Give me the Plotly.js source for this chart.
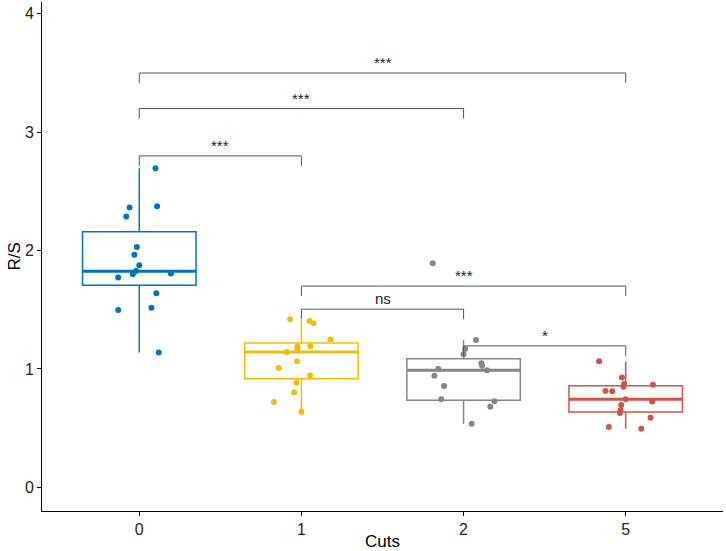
<!DOCTYPE html>
<html>
<head>
<meta charset="utf-8">
<script src="https://cdn.plot.ly/plotly-3.0.1.min.js"></script>
<style>
  html, body { margin: 0; padding: 0; background: #fff; }
  #chart { width: 726px; height: 551px; }
</style>
</head>
<body>
<div id="chart"></div>
<script>
// categories and colours (jco palette)
var cuts = ['0', '1', '2', '5'];
var colors = ['#0073C2', '#EFC000', '#868686', '#CD534C'];

// box statistics
var q1     = [1.707, 0.918, 0.735, 0.637];
var median = [1.826, 1.144, 0.989, 0.744];
var q3     = [2.160, 1.220, 1.087, 0.859];
var lower  = [1.138, 0.639, 0.535, 0.495];
var upper  = [2.695, 1.414, 1.245, 1.062];

// individual R/S values per group, with their horizontal jitter
var rs0  = [2.695, 2.375, 2.363, 2.287, 2.031, 1.964, 1.877, 1.828, 1.800, 1.772, 1.806, 1.640, 1.516, 1.499, 1.138];
var jit0 = [0.10, 0.11, -0.06, -0.08, -0.015, -0.03, 0.00, -0.02, -0.04, -0.13, 0.195, 0.105, 0.075, -0.13, 0.12];
var rs1  = [1.420, 1.406, 1.386, 1.248, 1.189, 1.192, 1.169, 1.144, 1.065, 1.008, 0.947, 0.884, 0.803, 0.721, 0.639];
var jit1 = [-0.07, 0.05, 0.075, 0.18, -0.025, 0.055, -0.025, -0.09, -0.027, -0.14, 0.054, -0.03, -0.045, -0.17, 0];
var rs2  = [1.893, 1.245, 1.169, 1.124, 1.048, 1.028, 0.989, 1.000, 0.943, 0.856, 0.744, 0.727, 0.681, 0.538];
var jit2 = [-0.19, 0.077, 0.01, 0.0, 0.11, 0.114, 0.145, -0.156, -0.18, -0.12, -0.138, 0.19, 0.165, 0.05];
var rs5  = [1.065, 0.927, 0.873, 0.850, 0.867, 0.814, 0.811, 0.744, 0.724, 0.696, 0.651, 0.628, 0.588, 0.510, 0.495];
var jit5 = [-0.164, -0.023, -0.01, -0.014, 0.168, -0.125, -0.083, 0, 0.164, -0.028, -0.032, -0.036, 0.153, -0.104, 0.096];

// pairwise comparisons (group index from / to, bracket height, label)
var cmpFrom  = [0, 0, 0, 1, 1, 2];
var cmpTo    = [1, 2, 3, 2, 3, 3];
var cmpY     = [2.80, 3.20, 3.50, 1.505, 1.70, 1.195];
var cmpLabel = ['***', '***', '***', 'ns', '***', '*'];

var values = [rs0, rs1, rs2, rs5];
var jitters = [jit0, jit1, jit2, jit5];
var boxWidth = 0.7;
var tip = 0.085;
var font = 'Liberation Sans, Arial, sans-serif';

var traces = [];

// boxes and whiskers
cuts.forEach(function (c, i) {
    traces.push({
        type: 'box',
        x: [i],
        q1: [q1[i]], median: [median[i]], q3: [q3[i]],
        lowerfence: [lower[i]], upperfence: [upper[i]],
        width: boxWidth,
        whiskerwidth: 0,
        boxpoints: false,
        fillcolor: '#ffffff',
        line: { color: colors[i], width: 1.5 },
        hoverinfo: 'skip',
        showlegend: false
    });
});

// thicker median bars
cuts.forEach(function (c, i) {
    traces.push({
        type: 'scatter',
        mode: 'lines',
        x: [i - boxWidth / 2, i + boxWidth / 2],
        y: [median[i], median[i]],
        line: { color: colors[i], width: 3 },
        hoverinfo: 'skip',
        showlegend: false
    });
});

// jittered points
cuts.forEach(function (c, i) {
    traces.push({
        type: 'scatter',
        mode: 'markers',
        x: jitters[i].map(function (j) { return i + j; }),
        y: values[i],
        marker: { color: colors[i], size: 6 },
        hoverinfo: 'y',
        showlegend: false
    });
});

// significance brackets
var shapes = [];
var annotations = [];
cmpFrom.forEach(function (a, k) {
    var b = cmpTo[k], y = cmpY[k];
    shapes.push({
        type: 'path',
        xref: 'x', yref: 'y',
        path: 'M ' + a + ' ' + (y - tip) + ' L ' + a + ' ' + y +
              ' L ' + b + ' ' + y + ' L ' + b + ' ' + (y - tip),
        line: { color: '#555555', width: 1 },
        layer: 'above'
    });
    annotations.push({
        x: (a + b) / 2, y: y,
        xref: 'x', yref: 'y',
        text: cmpLabel[k],
        showarrow: false,
        yanchor: 'bottom',
        yshift: 0,
        font: { family: font, size: 15, color: '#222222' }
    });
});

// y axis title, placed like the ggplot one
annotations.push({
    x: 0, y: 0.5,
    xref: 'paper', yref: 'paper',
    xshift: -28,
    xanchor: 'center', yanchor: 'middle',
    text: 'R/S',
    textangle: -90,
    showarrow: false,
    font: { family: font, size: 17, color: '#000000' }
});

Plotly.newPlot('chart', traces, {
    width: 726,
    height: 551,
    margin: { l: 42, r: 3, t: 2, b: 40 },
    paper_bgcolor: '#ffffff',
    plot_bgcolor: '#ffffff',
    boxmode: 'overlay',
    font: { family: font, color: '#000000' },
    xaxis: {
        range: [-0.6, 3.6],
        tickvals: [0, 1, 2, 3],
        ticktext: cuts,
        showgrid: false,
        zeroline: false,
        showline: true,
        linecolor: '#000000',
        linewidth: 1,
        ticks: 'outside',
        ticklen: 4,
        tickcolor: '#000000',
        tickfont: { family: font, size: 16, color: '#222222' },
        title: { text: 'Cuts', font: { family: font, size: 17, color: '#000000' } }
    },
    yaxis: {
        range: [-0.2, 4.1],
        tickvals: [0, 1, 2, 3, 4],
        showgrid: false,
        zeroline: false,
        showline: true,
        linecolor: '#000000',
        linewidth: 1,
        ticks: 'outside',
        ticklen: 4,
        tickcolor: '#000000',
        tickfont: { family: font, size: 16, color: '#222222' }
    },
    shapes: shapes,
    annotations: annotations
}, { displayModeBar: false, staticPlot: true });
</script>
</body>
</html>
